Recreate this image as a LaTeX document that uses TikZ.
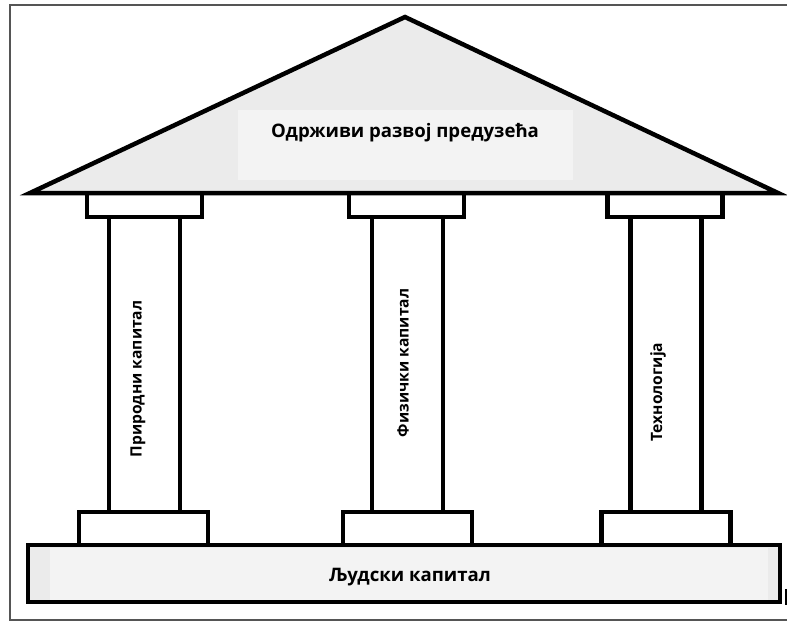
\documentclass[tikz,border=0pt]{standalone}
\usepackage{fontspec}
\setmainfont{Open Sans}
\usepackage{xcolor}
\usepackage{tikz}
\definecolor{roofgray}{HTML}{EBEBEB}
\definecolor{boxgray}{HTML}{F3F3F3}
\definecolor{framegray}{HTML}{555555}
\tikzstyle{part}=[draw=black, line width=4.5pt, fill=white, shape=rectangle, inner sep=0pt]
\tikzstyle{shaft}=[part, minimum width=71pt, minimum height=295pt]
\tikzstyle{capital}=[part, minimum width=115pt, minimum height=24pt]
\tikzstyle{plinth}=[part, minimum width=129pt, minimum height=33pt]
\tikzstyle{roof}=[draw=black, line width=4.5pt, fill=roofgray]
\tikzstyle{text box}=[fill=boxgray, shape=rectangle, inner sep=0pt]
\tikzstyle{title}=[font=\bfseries\fontsize{18.6}{22}\selectfont]
\tikzstyle{pillar text}=[font=\bfseries\fontsize{15.6}{18}\selectfont, rotate=90]
\pgfdeclarelayer{pillarlayer}
\pgfdeclarelayer{rooflayer}
\pgfdeclarelayer{textlayer}
\pgfsetlayers{pillarlayer,main,rooflayer,textlayer}
\begin{document}
\begin{tikzpicture}[x=1pt, y=-1pt]
        	\useasboundingbox (0,0) rectangle (787,621);
        	\draw [draw=framegray, line width=1.5pt] (787,5) -- (10,5) -- (10,620) -- (787,620);
        	\begin{pgfonlayer}{pillarlayer}
        		\node [style=shaft] (0) at (144.5,364.5) {};
        		\node [style=shaft] (1) at (407.5,364.5) {};
        		\node [style=shaft] (2) at (666,364.5) {};
        	\end{pgfonlayer}
        	\node [style=capital] (3) at (144.5,205) {};
        	\node [style=capital] (4) at (406.5,205) {};
        	\node [style=capital] (5) at (665,205) {};
        	\node [style=plinth] (6) at (143.5,528.5) {};
        	\node [style=plinth] (7) at (407.5,528.5) {};
        	\node [style=plinth] (8) at (666,528.5) {};
        	\node [style=part, fill=roofgray, minimum width=752pt, minimum height=57pt] (9) at (404,573.5) {};
        	\node [style=text box, minimum width=718pt, minimum height=52pt] (10) at (409,574) {};
        	\begin{pgfonlayer}{rooflayer}
        		\filldraw [style=roof] (30,193) -- (405,17) -- (778,193) -- cycle;
        		\node [style=text box, minimum width=335pt, minimum height=70pt] (11) at (405.5,145) {};
        	\end{pgfonlayer}
        	\begin{pgfonlayer}{textlayer}
        		\node [style=title] (12) at (405,133) {Одрживи развој предузећа};
        		\node [style=title] (13) at (410,577) {Људски капитал};
        		\node [style=pillar text] (14) at (138,379) {Природни капитал};
        		\node [style=pillar text] (15) at (403,363) {Физички капитал};
        		\node [style=pillar text] (16) at (658,392) {Технологија};
        	\end{pgfonlayer}
        	\draw [line width=2pt] (786,589) -- (786,605);
\end{tikzpicture}
\end{document}
